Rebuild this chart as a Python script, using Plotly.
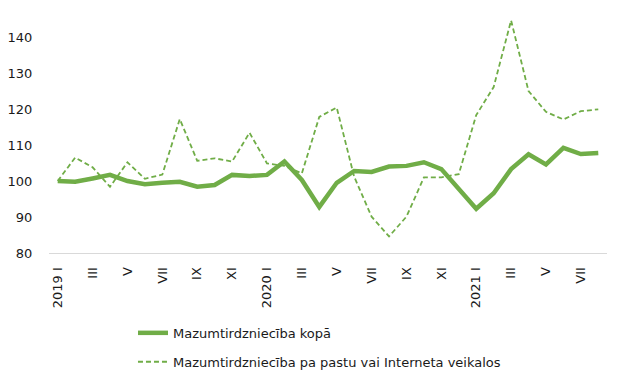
import plotly.graph_objects as go

months = ["2019 I", "II", "III", "IV", "V", "VI", "VII", "VIII", "IX", "X", "XI", "XII",
          "2020 I", "II", "III", "IV", "V", "VI", "VII", "VIII", "IX", "X", "XI", "XII",
          "2021 I", "II", "III", "IV", "V", "VI", "VII", "VIII"]

total_retail = [100.0, 99.8, 100.7, 101.7, 100.0, 99.1, 99.5, 99.8, 98.4, 98.9, 101.7, 101.4,
                101.7, 105.4, 100.3, 92.8, 99.5, 102.8, 102.5, 104.0, 104.2, 105.2, 103.3, 97.7,
                92.3, 96.6, 103.3, 107.4, 104.6, 109.2, 107.5, 107.8]

mail_internet = [100.0, 106.5, 103.8, 98.4, 105.2, 100.6, 101.8, 117.2, 105.6, 106.3, 105.4, 113.4,
                 104.9, 104.2, 102.1, 117.8, 120.4, 101.2, 90.1, 84.6, 90.1, 101.0, 101.0, 101.9,
                 118.3, 126.1, 144.6, 125.0, 119.2, 117.1, 119.4, 119.9]

series_names = ["Mazumtirdzniecība kopā", "Mazumtirdzniecība pa pastu vai Interneta veikalos"]
y_ticks = [80, 90, 100, 110, 120, 130, 140]

x = list(range(len(months)))
green = "#70AD47"
font_family = "DejaVu Sans"
txt = "#1a1a1a"

fig = go.Figure()
fig.add_trace(go.Scatter(x=x, y=total_retail, mode="lines", name=series_names[0],
                         legendgroup="a",
                         line=dict(color=green, width=4.5)))
fig.add_trace(go.Scatter(x=x, y=mail_internet, mode="lines", name=series_names[1],
                         legendgroup="b",
                         line=dict(color=green, width=1.8, dash="5px,3px")))

tick_idx = x[::2]
fig.update_layout(
    width=625, height=381,
    margin=dict(l=49, r=18, t=1, b=128),
    plot_bgcolor="white", paper_bgcolor="white",
    font=dict(family=font_family, size=13, color=txt),
    xaxis=dict(range=[-0.5, len(months) - 0.5], tickmode="array",
               tickvals=tick_idx, ticktext=[months[i] for i in tick_idx],
               tickangle=-90, showgrid=False, zeroline=False,
               showline=True, linecolor="#d9d9d9", linewidth=1,
               ticks="outside", ticklen=8, tickcolor="rgba(0,0,0,0)",
               tickfont=dict(size=13, color=txt), automargin=False),
    yaxis=dict(range=[80, 150], tickmode="array", tickvals=y_ticks,
               showgrid=False, zeroline=False, showline=False,
               ticks="outside", ticklen=13, tickcolor="rgba(0,0,0,0)",
               tickfont=dict(size=13, color=txt), automargin=False),
    showlegend=True,
    legend=dict(x=0.1505, xanchor="left", y=-0.2575, yanchor="top",
                traceorder="grouped", tracegroupgap=9,
                font=dict(size=13, color=txt), bgcolor="rgba(0,0,0,0)"),
)

fig.write_html("out.html", config={"displayModeBar": False},
               post_script="document.body.style.margin='0';")
